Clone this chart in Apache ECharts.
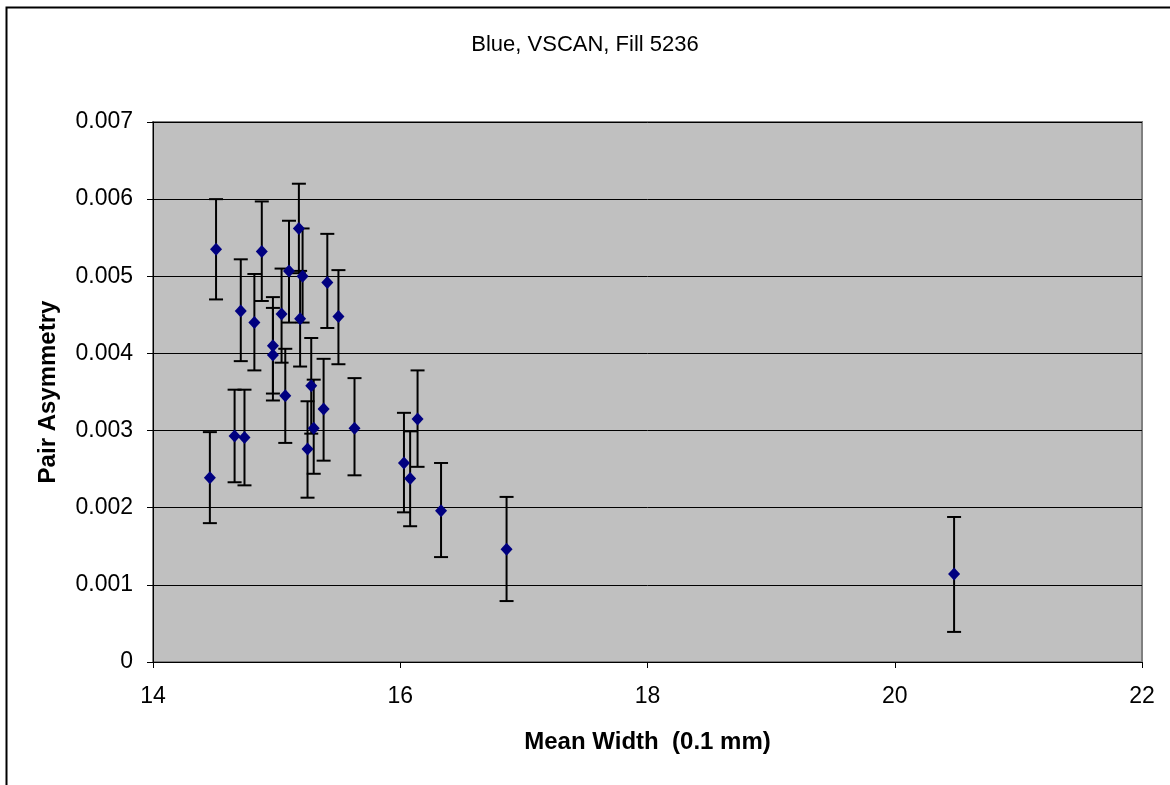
<html>
<head>
<meta http-equiv="Content-Type" content="text/html; charset=utf-8">
<title>Blue, VSCAN, Fill 5236</title>
<script src="https://cdn.jsdelivr.net/npm/echarts@6/dist/echarts.min.js"></script>
<style>
html, body { margin:0; padding:0; background:#fff; }
#main { width:1170px; height:785px; }
</style>
</head>
<body>
<div id="main"></div>
<script type="text/javascript">
// mean width (0.1 mm)
var widths = [14.46, 14.51, 14.66, 14.71, 14.74, 14.82, 14.88, 14.97, 14.97, 15.04, 15.07, 15.10,
              15.18, 15.19, 15.21, 15.25, 15.28, 15.30, 15.38, 15.41, 15.50, 15.63,
              16.03, 16.08, 16.14, 16.33, 16.86, 20.48];
// pair asymmetry
var asym = [0.00239, 0.00535, 0.00293, 0.00455, 0.00291, 0.00440, 0.00532, 0.00410, 0.00398, 0.00451, 0.00345, 0.00507,
            0.00562, 0.00445, 0.00500, 0.00276, 0.00358, 0.00303, 0.00328, 0.00492, 0.00448, 0.00303,
            0.00258, 0.00238, 0.00315, 0.00196, 0.00146, 0.00114];
// error bar ends
var errHigh = [0.00298, 0.00600, 0.00353, 0.00522, 0.00353, 0.00503, 0.00597, 0.00473, 0.00459, 0.00510, 0.00406, 0.00572,
               0.00620, 0.00507, 0.00562, 0.00338, 0.00420, 0.00366, 0.00393, 0.00555, 0.00508, 0.00368,
               0.00323, 0.00299, 0.00378, 0.00258, 0.00214, 0.00188];
var errLow = [0.00180, 0.00470, 0.00233, 0.00390, 0.00229, 0.00378, 0.00468, 0.00348, 0.00339, 0.00388, 0.00284, 0.00440,
              0.00504, 0.00383, 0.00440, 0.00213, 0.00296, 0.00244, 0.00261, 0.00433, 0.00386, 0.00242,
              0.00194, 0.00176, 0.00253, 0.00136, 0.00079, 0.00039];

var points = widths.map(function(x, i) { return [x, asym[i]]; });
var bars = widths.map(function(x, i) { return [x, errLow[i], errHigh[i]]; });

var myChart = echarts.init(document.getElementById('main'));

var option = {
  backgroundColor: '#fff',
  animation: false,
  textStyle: { fontFamily: 'Liberation Sans, Arial, sans-serif' },
  title: {
    text: 'Blue, VSCAN, Fill 5236',
    left: 'center',
    top: 29,
    textStyle: { fontSize: 22, fontWeight: 'normal', color: '#000' }
  },
  graphic: [{
    type: 'rect',
    shape: { x: 6.5, y: 7.5, width: 1200, height: 800 },
    style: { fill: 'none', stroke: '#000', lineWidth: 2 },
    silent: true
  }],
  grid: {
    left: 153, right: 28, top: 122, bottom: 123,
    show: true,
    backgroundColor: '#c0c0c0',
    borderColor: '#808080',
    borderWidth: 2
  },
  xAxis: {
    type: 'value',
    min: 14, max: 22, interval: 2,
    name: 'Mean Width  (0.1 mm)',
    nameLocation: 'middle',
    nameGap: 68,
    nameTextStyle: { fontSize: 24, fontWeight: 'bold', color: '#000' },
    axisLine: { show: true, lineStyle: { color: '#000', width: 1 } },
    axisTick: { show: true, inside: false, length: 6, lineStyle: { color: '#000' } },
    axisLabel: { fontSize: 23, color: '#000', margin: 23 },
    splitLine: { show: false }
  },
  yAxis: {
    type: 'value',
    min: 0, max: 0.007, interval: 0.001,
    name: 'Pair Asymmetry',
    nameLocation: 'middle',
    nameGap: 93,
    nameTextStyle: { fontSize: 24, fontWeight: 'bold', color: '#000' },
    axisLine: { show: true, lineStyle: { color: '#000', width: 1 } },
    axisTick: { show: true, inside: false, length: 6, lineStyle: { color: '#000' } },
    axisLabel: {
      fontSize: 23, color: '#000', margin: 20,
      formatter: function(v) { return v === 0 ? '0' : v.toFixed(3); }
    },
    splitLine: { show: true, lineStyle: { color: '#000', width: 1 } }
  },
  series: [{
    type: 'custom',
    name: 'errors',
    data: bars,
    z: 2,
    renderItem: function(params, api) {
      var x = api.value(0);
      var lo = api.coord([x, api.value(1)]);
      var hi = api.coord([x, api.value(2)]);
      var w = 7;
      var st = { stroke: '#000', lineWidth: 2 };
      return {
        type: 'group',
        children: [
          { type: 'line', shape: { x1: lo[0], y1: lo[1], x2: hi[0], y2: hi[1] }, style: st },
          { type: 'line', shape: { x1: hi[0] - w, y1: hi[1], x2: hi[0] + w, y2: hi[1] }, style: st },
          { type: 'line', shape: { x1: lo[0] - w, y1: lo[1], x2: lo[0] + w, y2: lo[1] }, style: st }
        ]
      };
    }
  }, {
    type: 'scatter',
    name: 'Pair Asymmetry',
    data: points,
    z: 3,
    symbol: 'diamond',
    symbolSize: [12, 13],
    itemStyle: { color: '#000080', opacity: 1 }
  }]
};

myChart.setOption(option);
</script>
</body>
</html>
